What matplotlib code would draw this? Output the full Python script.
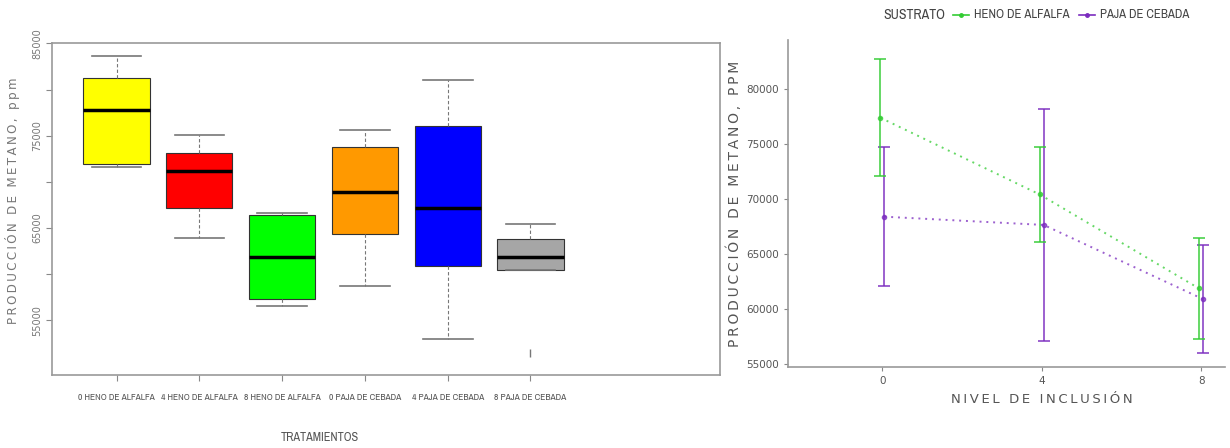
import matplotlib.pyplot as plt
from matplotlib import font_manager
from matplotlib.lines import Line2D
import numpy as np

# --- boxplot data (ppm) ---
tratamientos = ["0 HENO DE ALFALFA", "4 HENO DE ALFALFA", "8 HENO DE ALFALFA",
                "0 PAJA DE CEBADA", "4 PAJA DE CEBADA", "8 PAJA DE CEBADA"]
box_colors = ["#ffff00", "#ff0000", "#00ff00", "#ff9900", "#0000ff", "#a6a6a6"]
whisk_low = [71600, 63900, 56550, 58650, 53000, 60420]
q1 = [71940, 67170, 57280, 64320, 60820, 60420]
median = [77830, 71220, 61800, 68840, 67170, 61800]
q3 = [81300, 73130, 66410, 73750, 76100, 63810]
whisk_high = [83640, 75120, 66670, 75670, 81000, 65430]
outliers = [[], [], [], [], [], [51400]]

# --- interaction plot data ---
nivel = [0, 4, 8]
heno_mean = [77400, 70420, 61870]
heno_err = [5300, 4330, 4620]
paja_mean = [68400, 67650, 60900]
paja_err = [6300, 10550, 4940]

# pick a narrow face if one is around
narrow = None
cond_stretch = "normal"
for f in font_manager.fontManager.ttflist:
    if "Narrow" in f.name or "Condensed" in f.name:
        narrow = f.name
        break
if narrow is None:
    for f in font_manager.fontManager.ttflist:
        if f.name == "DejaVu Sans" and f.stretch == "condensed":
            narrow = "DejaVu Sans"
            cond_stretch = "condensed"
            break
if narrow is None:
    narrow = "DejaVu Sans"
    scale = 0.8
else:
    scale = 1.0

fig = plt.figure(figsize=(12.3, 4.48), dpi=100)

# ---------------- left: boxplot ----------------
ax1 = fig.add_axes([52 / 1230, 73 / 448, 668 / 1230, 332 / 448])
stats = []
for i in range(len(tratamientos)):
    stats.append(dict(med=median[i], q1=q1[i], q3=q3[i],
                      whislo=whisk_low[i], whishi=whisk_high[i],
                      fliers=outliers[i]))
bp = ax1.bxp(stats, positions=range(1, 7), widths=0.8, patch_artist=True,
             showfliers=True,
             medianprops=dict(color="black", linewidth=2.5),
             whiskerprops=dict(color="#777777", linestyle=(0, (3, 2)), linewidth=0.8),
             capprops=dict(color="#777777", linewidth=1.2),
             flierprops=dict(marker="|", markersize=6, markeredgecolor="#777777"))
for patch, c in zip(bp["boxes"], box_colors):
    patch.set_facecolor(c)
    patch.set_edgecolor("#333333")
    patch.set_linewidth(0.8)
for cap in bp["caps"]:
    x0, x1 = cap.get_xdata()
    mid = (x0 + x1) / 2
    cap.set_xdata([mid - 0.3, mid + 0.3])

ax1.set_xlim(0.22, 8.29)
ax1.set_ylim(49050, 85050)
yt = np.arange(55000, 85001, 5000)
ax1.set_yticks(yt)
ax1.set_yticklabels([str(v) if v % 10000 == 5000 else "" for v in yt],
                    rotation=90, va="center", fontsize=7, color="#777777")
ax1.set_xticks(range(1, 7))
ax1.set_xticklabels(tratamientos, fontsize=6.8 * scale, color="#555555",
                    family=narrow, fontstretch=cond_stretch)
ax1.tick_params(axis="x", length=4, color="#888888", pad=9)
ax1.tick_params(axis="y", length=4, color="#888888", pad=3)
for s in ax1.spines.values():
    s.set_color("#999999")
    s.set_linewidth(1.2)
ax1.set_ylabel("\u2009".join("PRODUCCIÓN DE METANO, ppm"), fontsize=8.6, color="#777777")
ax1.yaxis.set_label_coords(-0.048, 0.524)
fig.text(320 / 1230, 1 - 437 / 448, "TRATAMIENTOS", ha="center", va="center",
         fontsize=8.8 * scale, color="#555555", family=narrow, fontstretch=cond_stretch)

# ---------------- right: interaction plot ----------------
ax2 = fig.add_axes([788 / 1230, 81 / 448, 437 / 1230, 327 / 448])
green = "#33cc33"
purple = "#7b2cbf"
xs = np.array(nivel, dtype=float)
ax2.errorbar(xs + 0.05, paja_mean, yerr=paja_err, color=purple, alpha=0.75,
             linestyle=(0, (1, 2.5)), linewidth=1.4, marker="o", markersize=3,
             capsize=4, elinewidth=1.4, capthick=1.4)
ax2.errorbar(xs - 0.05, heno_mean, yerr=heno_err, color=green, alpha=0.75,
             linestyle=(0, (1, 2.5)), linewidth=1.4, marker="o", markersize=3,
             capsize=4, elinewidth=1.4, capthick=1.4)
ax2.set_xlim(-2.37, 8.6)
ax2.set_ylim(54730, 84470)
ax2.set_xticks(nivel)
ax2.set_yticks(np.arange(55000, 80001, 5000))
ax2.tick_params(axis="both", labelsize=7.5, labelcolor="#555555", color="#888888",
                length=3)
ax2.spines["top"].set_visible(False)
ax2.spines["right"].set_visible(False)
for s in ("left", "bottom"):
    ax2.spines[s].set_color("#999999")
    ax2.spines[s].set_linewidth(1.2)
ax2.set_xlabel("\u2009".join("NIVEL DE INCLUSIÓN"), fontsize=9.5, color="#555555")
ax2.xaxis.set_label_coords(0.58, -0.08)
ax2.set_ylabel("\u2009".join("PRODUCCIÓN DE METANO, PPM"), fontsize=10,
               color="#555555", labelpad=3)

# legend row along the top
ly = 1 - 15 / 448
fig.text(883 / 1230, ly, "SUSTRATO", ha="left", va="center", fontsize=10 * scale,
         color="#444444", family=narrow, fontstretch=cond_stretch)
for x0, c, lab in [(953, green, "HENO DE ALFALFA"), (1079, purple, "PAJA DE CEBADA")]:
    fig.add_artist(Line2D([x0 / 1230, (x0 + 16) / 1230], [ly, ly], color=c,
                          linewidth=1.2, transform=fig.transFigure))
    fig.add_artist(Line2D([(x0 + 8) / 1230], [ly], color=c, marker="o",
                          markersize=2.5, transform=fig.transFigure))
    fig.text((x0 + 21) / 1230, ly, lab, ha="left", va="center", fontsize=9.2 * scale,
             color="#444444", family=narrow, fontstretch=cond_stretch)

fig.savefig("out.png", dpi=100)
